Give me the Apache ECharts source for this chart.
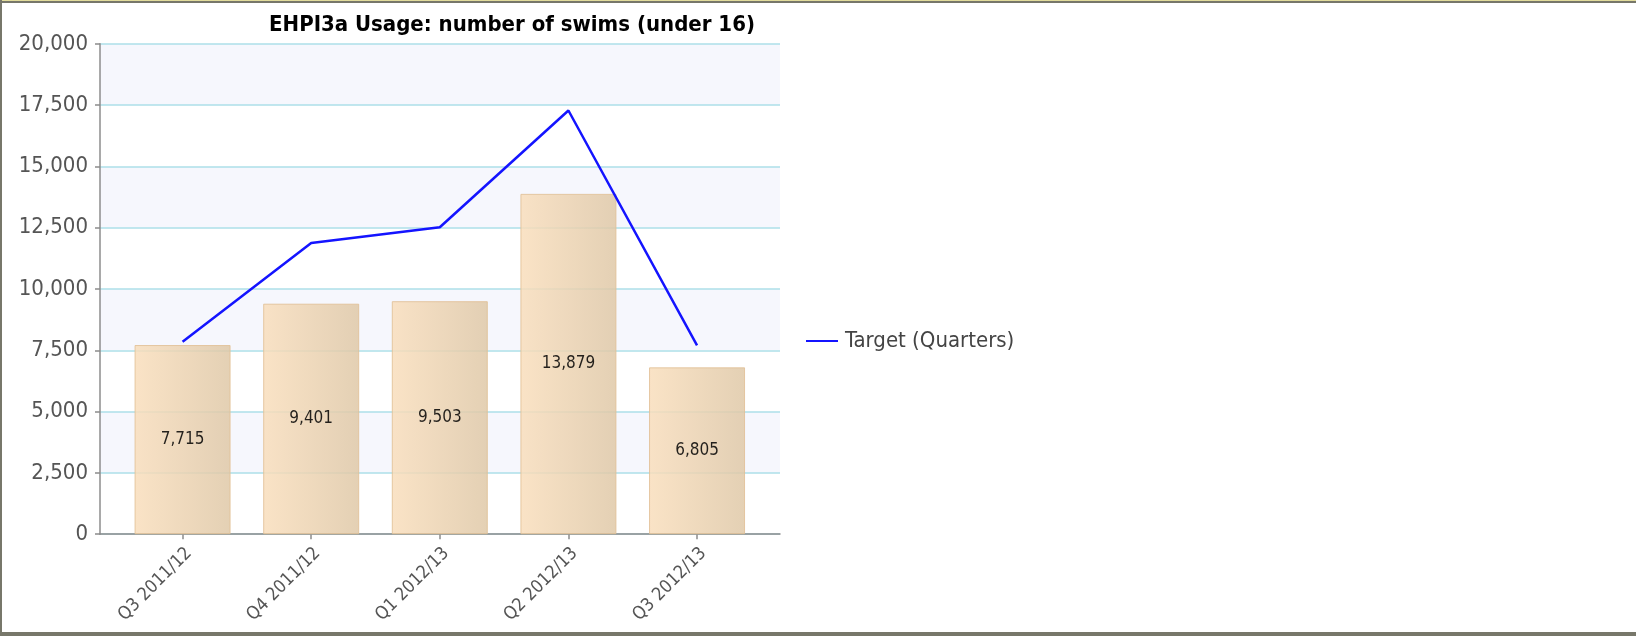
<!DOCTYPE html>
<html>
<head>
<meta charset="utf-8">
<script src="https://cdn.jsdelivr.net/npm/echarts@6/dist/echarts.min.js"></script>
<style>
  html, body { margin: 0; padding: 0; background: #fff; }
  #chart { position: absolute; left: 0; top: 0; width: 1636px; height: 636px; }
  #frame { position: absolute; left: 0; top: 0; width: 1636px; height: 636px; box-sizing: border-box;
           border-top: 3px solid #77776a; border-left: 2px solid #77776a; border-bottom: 4px solid #77776a;
           pointer-events: none; }
  #frame::before { content: ""; position: absolute; left: 0; right: 0; top: -3px; height: 1px; background: #e2dc9c; }
</style>
</head>
<body>
<div id="chart"></div>
<div id="frame"></div>
<script>
const categories = ['Q3 2011/12', 'Q4 2011/12', 'Q1 2012/13', 'Q2 2012/13', 'Q3 2012/13'];
const usage = [7715, 9401, 9503, 13879, 6805];
const target = [7850, 11880, 12520, 17280, 7700];
const titleText = 'EHPI3a Usage: number of swims (under 16)';
const targetName = 'Target (Quarters)';

const FONT = "'DejaVu Sans Condensed', 'Liberation Sans Narrow', 'DejaVu Sans', sans-serif";
const fmt = v => String(Math.round(v)).replace(/\B(?=(\d{3})+(?!\d))/g, ',');
const idx = categories.map((c, i) => i);

const chart = echarts.init(document.getElementById('chart'), null, { renderer: 'canvas' });
chart.setOption({
  animation: false,
  backgroundColor: '#fff',
  title: {
    text: titleText,
    left: 507, textAlign: 'center', top: 9,
    textStyle: { fontFamily: FONT, fontSize: 22, fontWeight: 'bold', color: '#000' }
  },
  legend: {
    data: [{ name: targetName, icon: 'rect' }],
    left: 801, top: 325,
    itemWidth: 32, itemHeight: 2, itemGap: 10,
    textStyle: { fontFamily: FONT, fontSize: 22, color: '#444', padding: [0, 0, 0, 2] }
  },
  grid: { left: 100, right: 856, top: 43.8, bottom: 101.8, containLabel: false },
  xAxis: {
    type: 'value', min: -0.642, max: 4.645,
    axisLine: { show: true, onZero: false, lineStyle: { color: '#8c8c8c', width: 1.5 } },
    axisTick: { show: true, customValues: idx, length: 5, lineStyle: { color: '#8c8c8c', width: 1.5 } },
    axisLabel: {
      customValues: idx, rotate: 45, margin: 10, verticalAlign: 'top',
      formatter: v => categories[Math.round(v)],
      fontFamily: FONT, fontSize: 18, color: '#555'
    },
    splitLine: { show: false }
  },
  yAxis: {
    type: 'value', min: 0, max: 20000, interval: 2500,
    axisLine: { show: true, onZero: false, lineStyle: { color: '#8c8c8c', width: 1.5 } },
    axisTick: { show: true, length: 5, lineStyle: { color: '#8c8c8c', width: 1.5 } },
    axisLabel: { formatter: v => fmt(v), fontFamily: FONT, fontSize: 22, color: '#555', margin: 12 },
    splitLine: { show: true, lineStyle: { color: '#addfe8', width: 1.5 } },
    splitArea: { show: true, areaStyle: { color: ['#ffffff', '#f6f7fd'] } }
  },
  series: [
    {
      name: 'Usage', type: 'bar', barWidth: 96,
      data: usage.map((v, i) => [i, v]),
      itemStyle: {
        opacity: 0.85,
        color: new echarts.graphic.LinearGradient(0, 0, 1, 0, [
          { offset: 0, color: '#f9debc' }, { offset: 1, color: '#dfc8a7' }
        ]),
        borderColor: '#e0bf95', borderWidth: 1
      },
      label: {
        show: true, position: 'inside',
        formatter: p => fmt(p.value[1]),
        fontFamily: FONT, fontSize: 17, color: '#000'
      },
      z: 2
    },
    {
      name: targetName, type: 'line',
      data: target.map((v, i) => [i, v]),
      showSymbol: false, symbol: 'none',
      lineStyle: { color: '#1414ff', width: 2.5 },
      itemStyle: { color: '#1414ff' },
      z: 3
    }
  ]
});
</script>
</body>
</html>
